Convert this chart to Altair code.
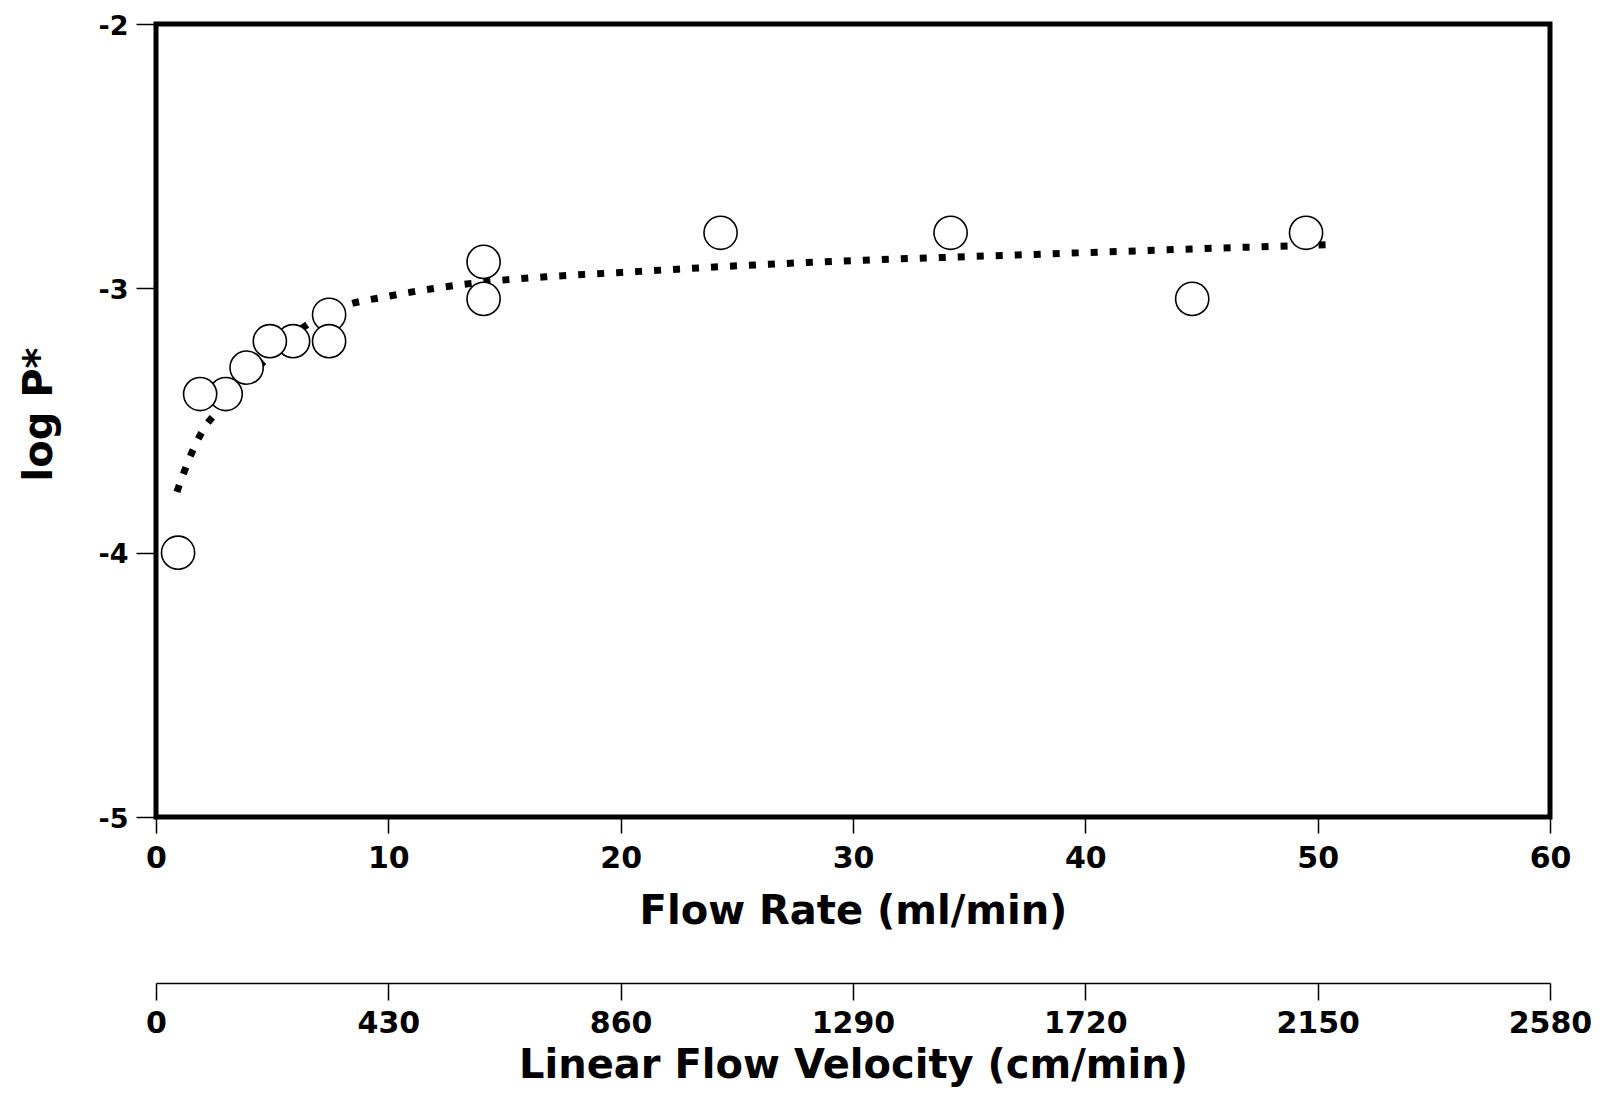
import altair as alt
import pandas as pd

# Measured points: flow rate (ml/min) vs log P*
flow_rate = [0.95, 1.9, 3.0, 3.9, 4.9, 5.9, 7.45, 7.45, 14.1, 14.1, 24.3, 34.2, 44.6, 49.5]
log_p = [-4.00, -3.40, -3.40, -3.30, -3.20, -3.20, -3.20, -3.10, -2.90, -3.04, -2.79, -2.79, -3.04, -2.79]

# Dotted fitted curve
curve_x = [0.9, 1.5, 2.0, 2.8, 4.0, 5.0, 6.0, 7.0, 8.0, 10, 12, 14.1, 17, 20, 25, 30, 35, 40, 45, 50.5]
curve_y = [-3.77, -3.63, -3.54, -3.45, -3.33, -3.25, -3.17, -3.11, -3.07, -3.03, -3.00, -2.976,
           -2.955, -2.94, -2.915, -2.895, -2.88, -2.865, -2.85, -2.835]

# Axis ticks
flow_ticks = [0, 10, 20, 30, 40, 50, 60]
logp_ticks = [-5, -4, -3, -2]
velocity_ticks = [0, 430, 860, 1290, 1720, 2150, 2580]

points_df = pd.DataFrame({"flow": flow_rate, "logp": log_p})
# draw right-to-left so left circles sit on top
points_df = points_df.iloc[::-1].reset_index(drop=True)
curve_df = pd.DataFrame({"flow": curve_x, "logp": curve_y})
vel_df = pd.DataFrame({"vel": velocity_ticks})

FONT = "DejaVu Sans"

x_enc = alt.X(
    "flow:Q",
    scale=alt.Scale(domain=[0, 60], nice=False, zero=False),
    axis=alt.Axis(
        values=flow_ticks,
        orient="bottom",
        domain=False,
        grid=False,
        ticks=True,
        tickSize=16,
        tickWidth=1.5,
        tickColor="black",
        labelFont=FONT,
        labelFontSize=30,
        labelFontWeight="bold",
        labelColor="black",
        labelPadding=10,
        labelOverlap=False,
        labelFlush=False,
        labelExpr="'' + datum.value",
        title="Flow Rate (ml/min)",
        titleFont=FONT,
        titleFontSize=40,
        titleFontWeight="bold",
        titleColor="black",
        titleBaseline="alphabetic",
        titleY=106,
    ),
)

y_enc = alt.Y(
    "logp:Q",
    scale=alt.Scale(domain=[-5, -2], nice=False, zero=False),
    axis=alt.Axis(
        values=logp_ticks,
        domain=False,
        grid=False,
        tickSize=20,
        tickWidth=1.5,
        tickColor="black",
        labelFont=FONT,
        labelFontSize=27,
        labelFontWeight="bold",
        labelColor="black",
        labelPadding=8,
        labelBaseline="alphabetic",
        labelOffset=10,
        labelOverlap=False,
        labelFlush=False,
        labelExpr="'' + datum.value",
        title="log P*",
        titleFont=FONT,
        titleFontSize=40,
        titleFontWeight="bold",
        titleColor="black",
        titleAngle=270,
        titleAlign="center",
        titleBaseline="bottom",
        titleX=-97,
        titleY=390,
    ),
)

line = alt.Chart(curve_df).mark_line(
    color="black", strokeWidth=7, strokeDash=[7, 12], strokeCap="butt", interpolate="monotone"
).encode(x=x_enc, y=y_enc)

pts = alt.Chart(points_df).mark_point(
    shape="circle", filled=True, fill="white", stroke="black", strokeWidth=1.6, size=1100, opacity=1
).encode(x=x_enc, y=y_enc)

base = alt.layer(line, pts)

vel = alt.Chart(vel_df).mark_point(opacity=0).encode(
    x=alt.X(
        "vel:Q",
        scale=alt.Scale(domain=[0, 2580], nice=False, zero=False),
        axis=alt.Axis(
            values=velocity_ticks,
            orient="bottom",
            offset=166,
            domain=True,
            domainColor="black",
            domainWidth=1.5,
            grid=False,
            tickSize=17,
            tickWidth=1.5,
            tickColor="black",
            labelFont=FONT,
            labelFontSize=30,
            labelFontWeight="bold",
            labelColor="black",
            labelPadding=8,
            labelOverlap=False,
            labelFlush=False,
            labelExpr="'' + datum.value",
            title="Linear Flow Velocity (cm/min)",
            titleFont=FONT,
            titleFontSize=40,
            titleFontWeight="bold",
            titleColor="black",
            titleBaseline="alphabetic",
            titleY=94,
        ),
    ),
    y=alt.value(0),
)

chart = (
    alt.layer(base, vel)
    .resolve_scale(x="independent")
    .properties(
        width=1394,
        height=793,
        autosize=alt.AutoSizeParams(type="none"),
        padding={"left": 148, "top": 16, "right": 47, "bottom": 271},
        background="white",
    )
    .configure_view(stroke="black", strokeWidth=5)
)

chart.save("out.html", embed_options={"renderer": "svg", "actions": False})
